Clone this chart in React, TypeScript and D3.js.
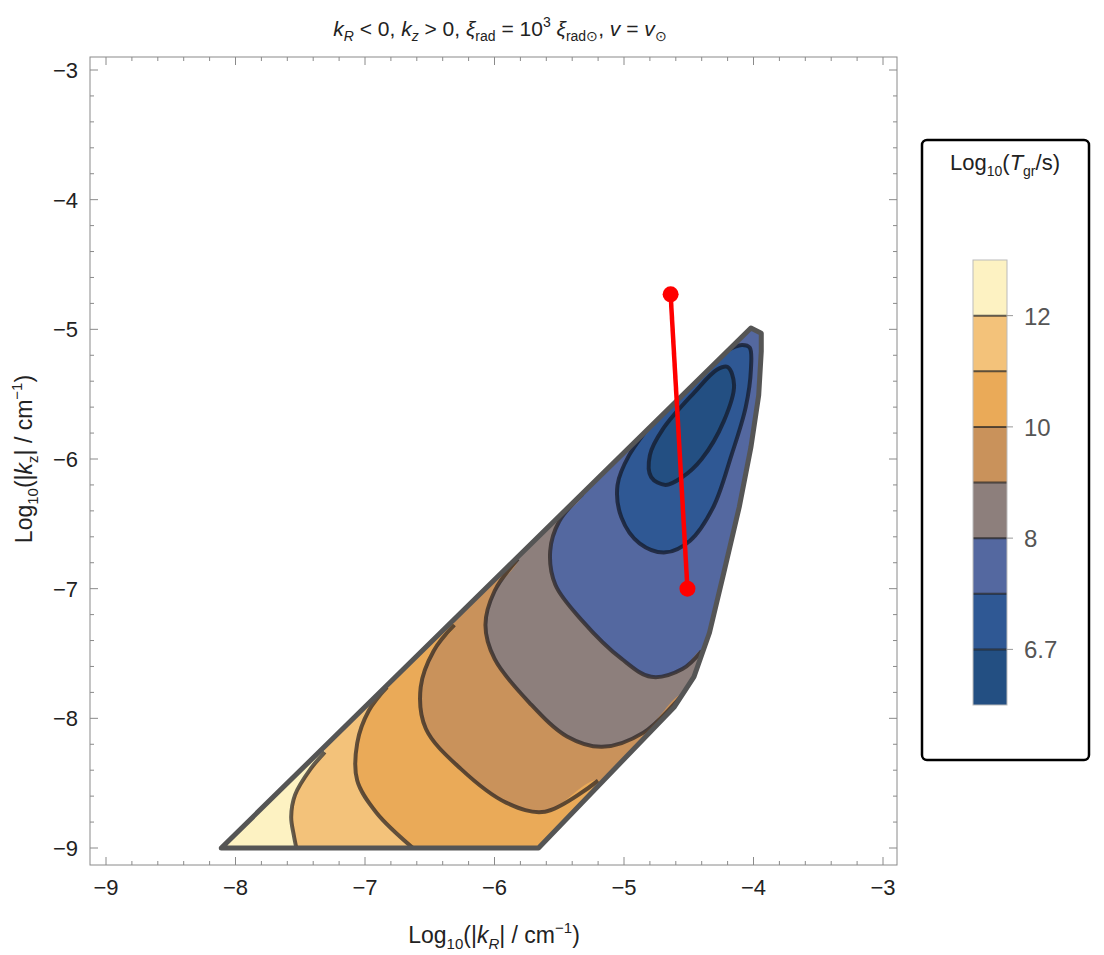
import * as d3 from 'd3'

type P = [number, number]

// outer boundary of the unstable region (data coords)
const outerBoundary: P[] = [
  [-8.11, -9.0], [-4.02, -4.99], [-3.94, -5.03], [-3.94, -5.17], [-3.96, -5.51], [-4.02, -5.91],
  [-4.11, -6.37], [-4.23, -6.88], [-4.34, -7.34], [-4.46, -7.68], [-4.61, -7.91], [-5.66, -9.0],
]

// contour lines, open ones run from diagonal edge to bottom / right edge
const contour12: P[] = [[-7.31, -8.26], [-7.42, -8.39], [-7.54, -8.59], [-7.57, -8.76], [-7.55, -8.9], [-7.53, -9.0]]
const contour11: P[] = [[-6.83, -7.76], [-6.97, -7.94], [-7.06, -8.19], [-7.06, -8.48], [-6.91, -8.73], [-6.63, -9.0]]
const contour10: P[] = [[-6.31, -7.28], [-6.47, -7.48], [-6.57, -7.76], [-6.53, -8.08], [-6.26, -8.39], [-5.91, -8.65], [-5.61, -8.72], [-5.2, -8.48]]
const contour9: P[] = [[-5.82, -6.77], [-6.0, -7.02], [-6.07, -7.28], [-6.0, -7.54], [-5.73, -7.88], [-5.44, -8.14], [-5.17, -8.22], [-4.85, -8.11], [-4.55, -7.82]]
const contour8: P[] = [[-5.32, -6.27], [-5.5, -6.48], [-5.57, -6.71], [-5.53, -6.97], [-5.32, -7.25], [-5.02, -7.54], [-4.79, -7.68], [-4.55, -7.62], [-4.4, -7.48]]
const contour7: P[] = [[-4.73, -5.66], [-4.96, -5.97], [-5.05, -6.2], [-5.02, -6.45], [-4.88, -6.65], [-4.68, -6.72], [-4.49, -6.63], [-4.31, -6.37], [-4.17, -5.97], [-4.06, -5.6], [-4.02, -5.31], [-4.03, -5.14], [-4.09, -5.12], [-4.22, -5.17]]
const contour67: P[] = [[-4.2, -5.29], [-4.15, -5.43], [-4.23, -5.71], [-4.4, -6.0], [-4.55, -6.14], [-4.68, -6.2], [-4.79, -6.14], [-4.8, -5.97], [-4.7, -5.77], [-4.46, -5.49], [-4.28, -5.31]]

const bandColors = ['#234f82', '#2f5894', '#5468a0', '#8d7f7c', '#c9925b', '#eaaa58', '#f3c27a', '#fdf2c2']
const legendTicks = [
  { idx: 7, label: '12' },
  { idx: 5, label: '10' },
  { idx: 3, label: '8' },
  { idx: 1, label: '6.7' },
]

const redLine: P[] = [[-4.64, -4.73], [-4.51, -7.0]]

const xTicks = [-9, -8, -7, -6, -5, -4, -3]
const yTicks = [-9, -8, -7, -6, -5, -4, -3]

const W = 1104
const H = 955
const frame = { left: 90, right: 897, top: 57, bottom: 865 }

export default function App() {
  const x = d3.scaleLinear().domain([-9, -3]).range([106, 883])
  const y = d3.scaleLinear().domain([-9, -3]).range([848, 70])
  const lb = d3.scaleLinear().domain([0, 8]).range([705, 260])

  const line = d3.line<P>().x((d) => x(d[0])).y((d) => y(d[1]))
  const smooth = d3.line<P>().x((d) => x(d[0])).y((d) => y(d[1])).curve(d3.curveCatmullRom.alpha(0.5))
  const closedSmooth = d3.line<P>().x((d) => x(d[0])).y((d) => y(d[1])).curve(d3.curveCatmullRomClosed.alpha(0.5))

  // fill polygon for the "lower T" side of an open contour
  const openFill = (c: P[]) => {
    const s = c[0]
    const e = c[c.length - 1]
    const startExt: P = [s[0] - 0.12, s[1] + 0.12]
    const endExt: P = [e[0] + 0.12, e[1] - 0.3]
    return smooth([startExt, ...c, endExt]) + 'L' + x(-2) + ',' + y(-9.6) + 'L' + x(-2) + ',' + y(-2.5) + 'L' + x(startExt[0]) + ',' + y(-2.5) + 'Z'
  }
  const loopFill = (c: P[]) => {
    const s = c[0]
    const e = c[c.length - 1]
    return smooth([[s[0] - 0.1, s[1] + 0.1], ...c, [e[0] - 0.1, e[1] + 0.1]]) + 'Z'
  }

  const openContours = [contour12, contour11, contour10, contour9, contour8]
  const minorX = d3.range(-9, -2.99, 0.2)
  const minorY = d3.range(-9, -2.99, 0.2)
  const font = 'Liberation Sans, Arial, sans-serif'
  const tickCol = '#8a8a8a'

  return (
    <div style={{ position: 'absolute', left: 0, top: 0 }}>
      <svg width={W} height={H} style={{ display: 'block', background: '#fff' }} fontFamily={font}>
        <defs>
          <clipPath id="region">
            <path d={line(outerBoundary) + 'Z'} />
          </clipPath>
        </defs>

        {/* frame */}
        <rect x={frame.left} y={frame.top} width={frame.right - frame.left} height={frame.bottom - frame.top} fill="none" stroke={tickCol} strokeWidth={1} />
        {minorX.map((v, i) => {
          const major = Math.abs(v - Math.round(v)) < 1e-6
          const len = major ? 8 : 4
          return (
            <g key={'tx' + i} stroke={tickCol}>
              <line x1={x(v)} x2={x(v)} y1={frame.bottom} y2={frame.bottom - len} />
              <line x1={x(v)} x2={x(v)} y1={frame.top} y2={frame.top + len} />
            </g>
          )
        })}
        {minorY.map((v, i) => {
          const major = Math.abs(v - Math.round(v)) < 1e-6
          const len = major ? 8 : 4
          return (
            <g key={'ty' + i} stroke={tickCol}>
              <line y1={y(v)} y2={y(v)} x1={frame.left} x2={frame.left + len} />
              <line y1={y(v)} y2={y(v)} x1={frame.right} x2={frame.right - len} />
            </g>
          )
        })}
        {xTicks.map((t) => (
          <text key={'xl' + t} x={x(t)} y={frame.bottom + 30} textAnchor="middle" fontSize={22} fill="#222">
            {'\u2212' + Math.abs(t)}
          </text>
        ))}
        {yTicks.map((t) => (
          <text key={'yl' + t} x={frame.left - 12} y={y(t) + 8} textAnchor="end" fontSize={22} fill="#222">
            {'\u2212' + Math.abs(t)}
          </text>
        ))}

        {/* contour fills */}
        <g clipPath="url(#region)">
          <path d={line(outerBoundary) + 'Z'} fill={bandColors[7]} />
          {openContours.map((c, i) => (
            <path key={'f' + i} d={openFill(c)} fill={bandColors[6 - i]} />
          ))}
          <path d={loopFill(contour7)} fill={bandColors[1]} />
          <path d={closedSmooth(contour67) ?? ''} fill={bandColors[0]} />

          {openContours.map((c, i) => (
            <path key={'s' + i} d={smooth(c) ?? ''} fill="none" stroke="rgba(40,35,35,0.72)" strokeWidth={4} />
          ))}
          <path d={smooth(contour7) ?? ''} fill="none" stroke="rgba(20,25,40,0.75)" strokeWidth={4} />
          <path d={closedSmooth(contour67) ?? ''} fill="none" stroke="rgba(20,25,40,0.75)" strokeWidth={4} />
        </g>
        <path d={line(outerBoundary) + 'Z'} fill="none" stroke="#555" strokeWidth={5} strokeLinejoin="round" />

        {/* red segment */}
        <path d={line(redLine) ?? ''} stroke="#f00" strokeWidth={4.5} fill="none" />
        {redLine.map((p, i) => (
          <circle key={'r' + i} cx={x(p[0])} cy={y(p[1])} r={8} fill="#f00" />
        ))}

        {/* title */}
        <text x={500} y={36} textAnchor="middle" fontSize={21} fill="#222">
          <tspan fontStyle="italic">k</tspan><tspan fontStyle="italic" fontSize={14} dy={5}>R</tspan>
          <tspan dy={-5}> {'< 0, '}</tspan>
          <tspan fontStyle="italic">k</tspan><tspan fontStyle="italic" fontSize={14} dy={5}>z</tspan>
          <tspan dy={-5}>{' > 0, '}</tspan>
          <tspan fontStyle="italic">ξ</tspan><tspan fontSize={14} dy={5}>rad</tspan>
          <tspan dy={-5}>{' = 10'}</tspan><tspan fontSize={14} dy={-9}>3</tspan>
          <tspan dy={9}>{' '}</tspan><tspan fontStyle="italic">ξ</tspan><tspan fontSize={14} dy={5}>rad⊙</tspan>
          <tspan dy={-5}>{', '}</tspan><tspan fontStyle="italic">v</tspan>
          <tspan>{' = '}</tspan><tspan fontStyle="italic">v</tspan><tspan fontSize={14} dy={5}>⊙</tspan>
        </text>

        {/* axis labels */}
        <text x={494} y={943} textAnchor="middle" fontSize={23} fill="#222">
          <tspan>Log</tspan><tspan fontSize={15} dy={6}>10</tspan>
          <tspan dy={-6}>(|</tspan><tspan fontStyle="italic">k</tspan><tspan fontStyle="italic" fontSize={15} dy={6}>R</tspan>
          <tspan dy={-6}>{'| / cm'}</tspan><tspan fontSize={15} dy={-10}>−1</tspan><tspan dy={10}>)</tspan>
        </text>
        <text transform={`translate(32,${y(-6)}) rotate(-90)`} textAnchor="middle" fontSize={23} fill="#222">
          <tspan>Log</tspan><tspan fontSize={15} dy={6}>10</tspan>
          <tspan dy={-6}>(|</tspan><tspan fontStyle="italic">k</tspan><tspan fontSize={15} dy={6}>z</tspan>
          <tspan dy={-6}>{'| / cm'}</tspan><tspan fontSize={15} dy={-10}>−1</tspan><tspan dy={10}>)</tspan>
        </text>

        {/* legend */}
        <rect x={922} y={140} width={167} height={620} rx={5} fill="#fff" stroke="#000" strokeWidth={2.5} />
        <text x={1005} y={170} textAnchor="middle" fontSize={22} fill="#222">
          <tspan>Log</tspan><tspan fontSize={14} dy={6}>10</tspan>
          <tspan dy={-6}>(</tspan><tspan fontStyle="italic">T</tspan><tspan fontSize={14} dy={6}>gr</tspan>
          <tspan dy={-6}>/s)</tspan>
        </text>
        {bandColors.map((c, i) => (
          <rect key={'b' + i} x={973} y={lb(i + 1)} width={34} height={lb(i) - lb(i + 1)} fill={c} />
        ))}
        {d3.range(1, 8).map((i) => (
          <g key={'bl' + i}>
            <line x1={973} x2={1007} y1={lb(i)} y2={lb(i)} stroke="rgba(30,30,30,0.7)" strokeWidth={2} />
          </g>
        ))}
        <rect x={973} y={lb(8)} width={34} height={lb(0) - lb(8)} fill="none" stroke="#bbb" strokeWidth={1} />
        {legendTicks.map((t) => (
          <g key={'lt' + t.idx}>
            <line x1={1007} x2={1013} y1={lb(t.idx)} y2={lb(t.idx)} stroke="#999" />
            <text x={1024} y={lb(t.idx) + 9} fontSize={24} fill="#555">{t.label}</text>
          </g>
        ))}
      </svg>
    </div>
  )
}
